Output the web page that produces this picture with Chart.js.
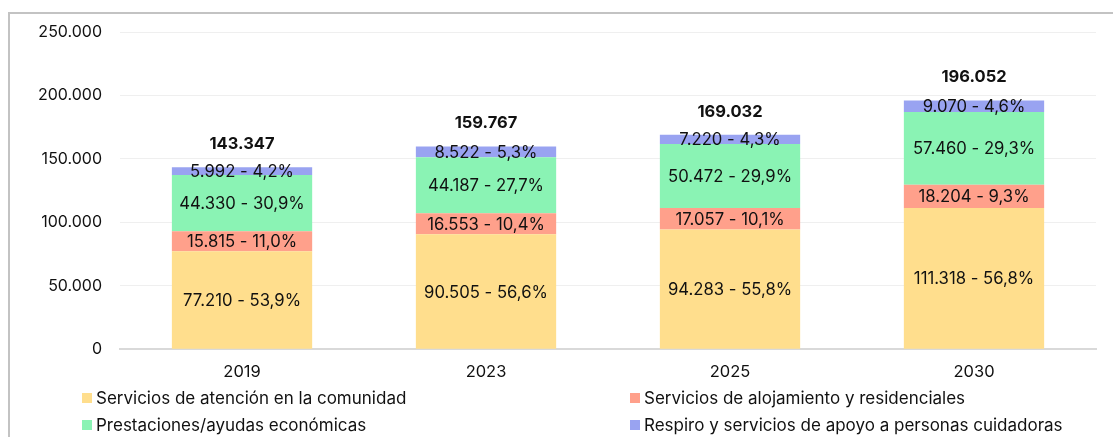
<!DOCTYPE html>
<html>
<head>
<meta charset="utf-8">
<script src="https://cdn.jsdelivr.net/npm/chart.js@4/dist/chart.umd.min.js"></script>
<style>
html,body{margin:0;padding:0;background:#fff;}
#wrap{position:relative;width:1113px;height:437px;}
</style>
</head>
<body>
<div id="wrap"><canvas id="c" width="1113" height="437"></canvas></div>
<script>
const categories = ['2019', '2023', '2025', '2030'];
const seriesNames = [
  'Servicios de atención en la comunidad',
  'Servicios de alojamiento y residenciales',
  'Prestaciones/ayudas económicas',
  'Respiro y servicios de apoyo a personas cuidadoras'
];
const comunidad = [77210, 90505, 94283, 111318];
const alojamiento = [15815, 16553, 17057, 18204];
const prestaciones = [44330, 44187, 50472, 57460];
const respiro = [5992, 8522, 7220, 9070];
const yTicks = [0, 50000, 100000, 150000, 200000, 250000];
const colors = ['#FFDE8D', '#FFA08B', '#8AF3B4', '#99A3F1'];

const FONT = 'Inter, "Open Sans", sans-serif';

function fmtThousands(v) {
  return String(Math.round(v)).replace(/\B(?=(\d{3})+(?!\d))/g, '.');
}
function fmtPct(p) {
  return p.toFixed(1).replace('.', ',') + '%';
}

const seriesValues = [comunidad, alojamiento, prestaciones, respiro];
const totals = categories.map((_, i) => seriesValues.reduce((s, arr) => s + arr[i], 0));

const frame = {
  id: 'frame',
  beforeDraw(chart) {
    const ctx = chart.ctx;
    ctx.save();
    ctx.strokeStyle = '#c3c3c3';
    ctx.lineWidth = 2;
    ctx.beginPath();
    ctx.moveTo(9, 437);
    ctx.lineTo(9, 13);
    ctx.lineTo(1113, 13);
    ctx.stroke();
    ctx.restore();
  }
};

const labels = {
  id: 'labels',
  afterDatasetsDraw(chart) {
    const ctx = chart.ctx;
    ctx.save();
    ctx.textAlign = 'center';
    ctx.textBaseline = 'middle';
    ctx.fillStyle = '#111';
    ctx.font = '16.7px ' + FONT;
    chart.data.datasets.forEach((ds, di) => {
      const meta = chart.getDatasetMeta(di);
      meta.data.forEach((bar, i) => {
        const v = ds.data[i];
        const y = (bar.y + bar.base) / 2;
        ctx.fillText(fmtThousands(v) + ' - ' + fmtPct(v / totals[i] * 100), bar.x, y + 1);
      });
    });
    ctx.font = 'bold 16.5px ' + FONT;
    const last = chart.getDatasetMeta(chart.data.datasets.length - 1);
    last.data.forEach((bar, i) => {
      ctx.fillText(fmtThousands(totals[i]), bar.x, bar.y - 23);
    });
    ctx.restore();
  }
};

const legend = {
  id: 'customLegend',
  afterDraw(chart) {
    const ctx = chart.ctx;
    ctx.save();
    ctx.font = '17px ' + FONT;
    ctx.textBaseline = 'middle';
    ctx.textAlign = 'left';
    const cols = [82, 630];
    const rows = [398, 425];
    chart.data.datasets.forEach((ds, i) => {
      const x = cols[i % 2];
      const y = rows[Math.floor(i / 2)];
      ctx.fillStyle = ds.backgroundColor;
      ctx.fillRect(x, y - 5, 10, 10);
      ctx.fillStyle = '#111';
      ctx.fillText(ds.label, x + 14, y + 1);
    });
    ctx.restore();
  }
};

new Chart(document.getElementById('c'), {
  type: 'bar',
  data: {
    labels: categories,
    datasets: seriesValues.map((arr, i) => ({
      label: seriesNames[i],
      data: arr,
      backgroundColor: colors[i],
      borderWidth: 0,
      barPercentage: 0.575,
      categoryPercentage: 1
    }))
  },
  options: {
    responsive: false,
    animation: false,
    devicePixelRatio: 1,
    layout: { padding: { top: 32, right: 17, bottom: 42, left: 20 } },
    plugins: { legend: { display: false }, tooltip: { enabled: false } },
    scales: {
      x: {
        stacked: true,
        grid: { display: false, drawTicks: false },
        border: { display: true, color: '#d9d9d9', width: 2 },
        ticks: { color: '#111', font: { family: FONT, size: 16.5 }, padding: 13 }
      },
      y: {
        stacked: true,
        min: 0,
        max: 250000,
        afterBuildTicks(axis) { axis.ticks = yTicks.map(v => ({ value: v })); },
        grid: { color: '#efefef', drawTicks: false, lineWidth: 1 },
        border: { display: false },
        ticks: {
          color: '#111',
          font: { family: FONT, size: 16 },
          padding: 18,
          callback: v => fmtThousands(v)
        }
      }
    }
  },
  plugins: [frame, labels, legend]
});
</script>
</body>
</html>
